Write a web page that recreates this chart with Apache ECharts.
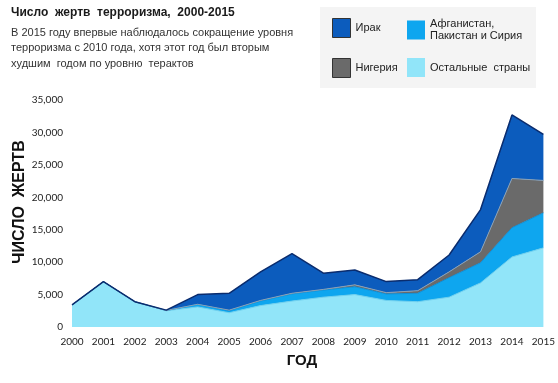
<!DOCTYPE html>
<html><head><meta charset="utf-8">
<script src="https://cdn.jsdelivr.net/npm/echarts@6/dist/echarts.min.js"></script>
<style>html,body{margin:0;padding:0;background:#fff}#c{width:558px;height:383px}</style>
</head><body><div id="c"></div>
<script>
const years = ['2000','2001','2002','2003','2004','2005','2006','2007','2008','2009','2010','2011','2012','2013','2014','2015'];
const others  = [3400,7000,3900,2500,3100,2200,3300,4000,4600,5000,4100,3900,4600,6800,10800,12200];
const afPakSy = [0,0,0,50,400,300,700,1100,1100,1200,1000,1300,3000,3100,4500,5400];
const nigeria = [0,0,0,0,0,100,100,100,100,300,200,400,900,1700,7600,5000];
const iraq    = [0,0,0,50,1500,2600,4400,6100,2500,2300,1700,1700,2600,6500,9800,7100];
const yTicks = [0,5000,10000,15000,20000,25000,30000,35000];

const names = ['Остальные  страны','Афганистан,\nПакистан и Сирия','Нигерия','Ирак'];
const fills = ['#91e5f9','#0ea6ef','#6a6a6a','#0c5cbd'];
const lines = ['#6fd0ee','#0b8fd8','#8aa0b4','#0a2c6e'];
const datas = [others, afPakSy, nigeria, iraq];

const chart = echarts.init(document.getElementById('c'));
const fam = 'Lato, "Noto Sans", sans-serif';
function lg(name, left, top, border){
  return {data:[name], left:left, top:top, orient:'vertical', icon:'rect', itemWidth:18, itemHeight:19, itemGap:0, padding:0,
    selectedMode:false,
    itemStyle: border ? {borderColor:'#333', borderWidth:1} : {borderWidth:0},
    textStyle:{fontFamily:'"Liberation Sans", sans-serif', fontSize:11, color:'#222', lineHeight:12}};
}
chart.setOption({
  animation:false,
  title:{text:'Число  жертв  терроризма,  2000-2015', left:11, top:5, itemGap:4, padding:0,
    textStyle:{fontFamily:'"Liberation Sans", sans-serif', fontSize:12, fontWeight:'bold', color:'#1a1a1a', lineHeight:16},
    subtext:'В 2015 году впервые наблюдалось сокращение уровня\nтерроризма с 2010 года, хотя этот год был вторым\nхудшим  годом по уровню  терактов',
    subtextStyle:{fontFamily:'"Liberation Sans", sans-serif', fontSize:11, color:'#333', lineHeight:15.5}},
  graphic:[
    {type:'rect', shape:{x:320, y:7, width:216, height:81}, style:{fill:'#f4f4f4'}, z:-1},
    {type:'text', x:20, y:202, rotation:Math.PI/2,
      style:{text:'ЧИСЛО  ЖЕРТВ', align:'center', verticalAlign:'middle',
        font:'bold 16px "Liberation Sans", sans-serif', fill:'#111'}},
    {type:'text', x:302, y:361,
      style:{text:'ГОД', align:'center', verticalAlign:'middle',
        font:'bold 15px "Liberation Sans", sans-serif', fill:'#111'}}
  ],
  legend:[lg(names[3],332,18,true), lg(names[1],407,18,false), lg(names[2],332,58,true), lg(names[0],407,58,false)],
  grid:{left:72, right:13, top:100, bottom:56},
  xAxis:{type:'category', data:years, boundaryGap:false,
    axisLine:{show:false}, axisTick:{show:false},
    axisLabel:{fontFamily:fam, fontSize:10, color:'#222', margin:10}},
  yAxis:{type:'value', min:0, max:35000, interval:5000,
    axisLine:{show:false}, axisTick:{show:false}, splitLine:{show:false},
    axisLabel:{fontFamily:fam, fontSize:10, color:'#222', margin:9,
      formatter:v=> yTicks.includes(v) ? v.toLocaleString('en-US') : ''}},
  series: datas.map((d,i)=>({
    name:names[i], type:'line', stack:'all', data:d, symbol:'none', smooth:false,
    itemStyle:{color:fills[i]},
    lineStyle:{color:lines[i], width: i===3 ? 1.5 : 1},
    areaStyle:{color:fills[i], opacity:1}
  }))
});
</script></body></html>
